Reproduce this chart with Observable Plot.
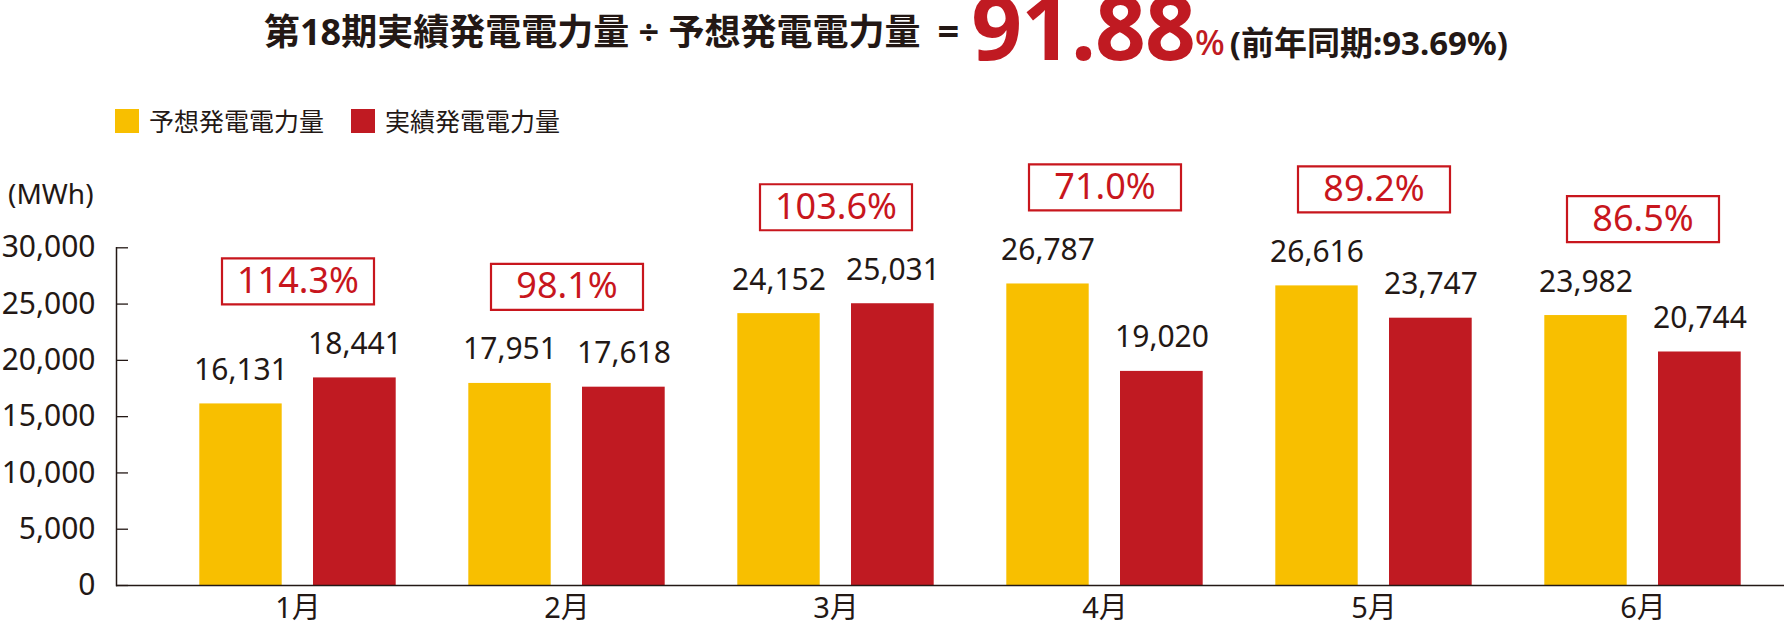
<!DOCTYPE html>
<html><head><meta charset="utf-8">
<script src="https://cdn.jsdelivr.net/npm/d3@7"></script>
<script src="https://cdn.jsdelivr.net/npm/@observablehq/plot@0.6"></script>
<style>
body{margin:0;background:#fff;font-family:"Noto Sans","Noto Sans CJK JP",sans-serif;color:#231815;}
#wrap{position:relative;width:1784px;height:627px;overflow:hidden;background:#fff}
#head{position:relative;height:150px}
#title{position:absolute;left:264px;top:-34px;display:flex;align-items:baseline;white-space:nowrap;font-weight:700;line-height:1}
#title span{line-height:1}
.t1{font-size:36px}
.teq{font-size:38px;margin-left:17px}
.t2{font-size:89px;color:#C01A22;margin-left:12px;position:relative;top:15px;letter-spacing:-1px}
.t3{font-size:35px;color:#C01A22;font-weight:500;position:relative;top:10px;margin-left:0px}
.t4{font-size:33px;position:relative;top:10px;margin-left:5px}
#legend{position:absolute;left:115px;top:108px;display:flex;align-items:center;font-size:25px;line-height:26px}
#legend .sw{width:24px;height:24px;display:inline-block;margin-right:10px}
#legend .item{display:flex;align-items:center;margin-right:27px}
#unit{position:absolute;left:8px;top:176px;font-size:28px;line-height:34px;z-index:2}
#chart{position:relative;z-index:1}
</style>
</head><body>
<div id="wrap">
  <div id="head">
    <div id="title"></div>
    <div id="legend"></div>
  </div>
  <div id="chart"></div>
  <div id="unit"></div>
</div>
<script>
// ---- data ----
const months = ["1月","2月","3月","4月","5月","6月"];
const seriesNames = ["予想発電電力量","実績発電電力量"];
const forecast = [16131, 17951, 24152, 26787, 26616, 23982];
const actual   = [18441, 17618, 25031, 19020, 23747, 20744];
const ratios   = [114.3, 98.1, 103.6, 71.0, 89.2, 86.5];
const yTicks   = [0, 5000, 10000, 15000, 20000, 25000, 30000];
const titleLead = "第18期実績発電電力量 ÷ 予想発電電力量";
const totalRatio = "91.88";
const prevLabel = "(前年同期:93.69%)";
const unitLabel = "(MWh)";

const colors = ["#F8BF00", "#C01A22"];
const ink = "#231815";
const red = "#C8161D";

// ---- header ----
const title = document.getElementById("title");
title.innerHTML = `<span class="t1">${titleLead}</span><span class="teq">=</span><span class="t2">${totalRatio}</span><span class="t3">%</span><span class="t4">${prevLabel}</span>`;
const legend = document.getElementById("legend");
seriesNames.forEach((s, i) => {
  const it = document.createElement("div");
  it.className = "item";
  it.innerHTML = `<span class="sw" style="background:${colors[i]}"></span><span>${s}</span>`;
  legend.appendChild(it);
});
document.getElementById("unit").textContent = unitLabel;

// ---- chart ----
const fRows = months.map((m, i) => ({month: m, value: forecast[i]}));
const aRows = months.map((m, i) => ({month: m, value: actual[i]}));
const rRows = months.map((m, i) => ({month: m, top: Math.max(forecast[i], actual[i]), ratio: ratios[i]}));
const fmt = d3.format(",");

const boxSymbol = {draw(ctx) { ctx.rect(-76, -23, 152, 46); }};

const chart = Plot.plot({
  width: 1784,
  height: 477,
  marginTop: 97.3,
  marginBottom: 42,
  marginLeft: 116,
  marginRight: 0,
  style: {fontFamily: '"Noto Sans","Noto Sans CJK JP",sans-serif', fontSize: "30px", color: ink, background: "#fff", overflow: "visible"},
  x: {domain: months, padding: 0, insetLeft: 45.7, insetRight: 4.7, label: null},
  y: {domain: [0, 30000], label: null},
  marks: [
    Plot.barY(fRows, {x: "month", y: "value", fill: colors[0], insetLeft: 36.3, insetRight: 150.3}),
    Plot.barY(aRows, {x: "month", y: "value", fill: colors[1], insetLeft: 150, insetRight: 36.3}),
    Plot.ruleY([0], {stroke: ink, strokeWidth: 1.5}),
    Plot.frame({anchor: "left", stroke: ink, strokeWidth: 1.5}),
    Plot.axisY(yTicks, {tickSize: -12, tickPadding: 33, tickFormat: fmt, fontSize: 30, stroke: ink, strokeWidth: 1.3}),
    Plot.axisX({tickSize: 0, tickPadding: 12, fontSize: 29}),
    Plot.text(fRows, {x: "month", y: "value", text: d => fmt(d.value), dx: -57, dy: -24, lineAnchor: "bottom", fontSize: 30, fill: ink}),
    Plot.text(aRows, {x: "month", y: "value", text: d => fmt(d.value), dx: 57, dy: -24, lineAnchor: "bottom", fontSize: 30, fill: ink}),
    Plot.dot(rRows, {x: "month", y: "top", dy: -96.5, symbol: boxSymbol, r: 10, fill: "#fff", stroke: red, strokeWidth: 2.2}),
    Plot.text(rRows, {x: "month", y: "top", dy: -96.5, text: d => d.ratio.toFixed(1) + "%", fontSize: 36, fill: red})
  ]
});
document.getElementById("chart").appendChild(chart);
</script>
</body></html>
